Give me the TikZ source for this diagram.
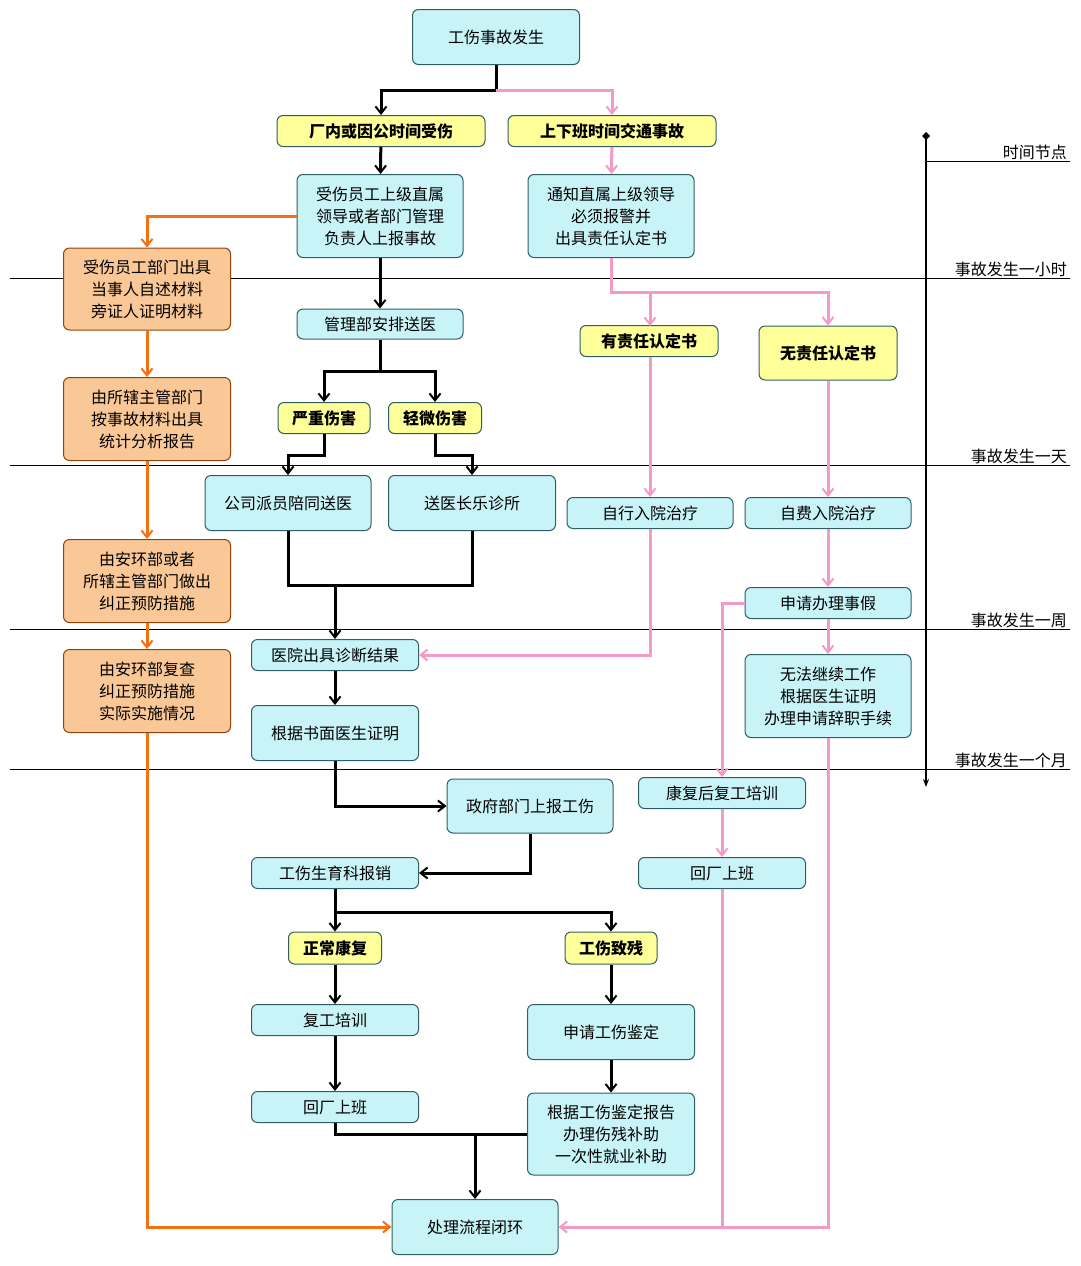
\documentclass[tikz,border=0pt]{standalone}
\usepackage{fontspec}
\newfontfamily\cjk{Noto Sans CJK SC}
\usetikzlibrary{arrows.meta}
\definecolor{cy}{HTML}{C8F4F8}
\definecolor{yl}{HTML}{FFFF99}
\definecolor{orf}{HTML}{FAC896}
\definecolor{orl}{HTML}{F57010}
\definecolor{pk}{HTML}{F49AC8}
\definecolor{bd}{HTML}{2F5F62}
\begin{document}
\begin{tikzpicture}[x=1pt,y=-1pt,
  base/.style={draw=bd,line width=1pt,rounded corners=6pt,align=center,inner sep=0pt,font=\cjk\fontsize{16}{22}\selectfont},
  cb/.style={base,fill=cy},
  yb/.style={base,fill=yl,font=\cjk\bfseries\fontsize{16}{22}\selectfont},
  ob/.style={base,fill=orf,draw=orl!60!black},
  bk/.style={line width=3pt,-{Straight Barb[length=7pt,width=11pt,line width=2pt]}},
  bl/.style={line width=3pt},
  pka/.style={pk,line width=3pt,-{Straight Barb[length=7pt,width=11pt,line width=2pt]}},
  pkl/.style={pk,line width=3pt},
  ora/.style={orl,line width=3pt,-{Straight Barb[length=7pt,width=11pt,line width=2pt]}},
  lbl/.style={anchor=south east,inner sep=1pt,font=\cjk\fontsize{16}{20}\selectfont}]
\useasboundingbox (0,0) rectangle (1080,1266);
\foreach \yy in {278,465,629,769}{\draw[line width=0.8pt] (10,\yy)--(1070,\yy);}
\draw[line width=0.8pt] (926,161)--(1070,161);
\node[lbl] (t0) at (1068,161) {时间节点};
\node[lbl] (t1) at (1068,278) {事故发生一小时};
\node[lbl] (t2) at (1068,465) {事故发生一天};
\node[lbl] (t3) at (1068,629) {事故发生一周};
\node[lbl] (t4) at (1068,769) {事故发生一个月};
\coordinate (ax0) at (926,136); \coordinate (ax1) at (926,787);
\draw[line width=1.2pt,-{Stealth[length=8pt]}] (ax0)--(ax1);
\fill (ax0) +(0,-4) -- +(4,0) -- +(0,4) -- +(-4,0) -- cycle;
\node[cb,minimum width=167,minimum height=55] (a) at (496,37) {工伤事故发生};
\node[yb,minimum width=208,minimum height=31] (y1) at (381,131) {厂内或因公时间受伤};
\node[yb,minimum width=208,minimum height=31] (y2) at (612,131) {上下班时间交通事故};
\node[cb,minimum width=166,minimum height=83] (b1) at (380,216) {受伤员工上级直属\\领导或者部门管理\\负责人上报事故};
\node[cb,minimum width=166,minimum height=83] (b2) at (611,216) {通知直属上级领导\\必须报警并\\出具责任认定书};
\node[ob,minimum width=167,minimum height=82] (o1) at (147,289) {受伤员工部门出具\\当事人自述材料\\旁证人证明材料};
\node[cb,minimum width=166,minimum height=30] (m) at (380,324) {管理部安排送医};
\node[yb,minimum width=138,minimum height=31] (yz) at (649,341) {有责任认定书};
\node[yb,minimum width=138,minimum height=54] (wz) at (828,353) {无责任认定书};
\node[ob,minimum width=167,minimum height=83] (o2) at (147,419) {由所辖主管部门\\按事故材料出具\\统计分析报告};
\node[yb,minimum width=92,minimum height=31] (s1) at (324,418) {严重伤害};
\node[yb,minimum width=93,minimum height=31] (s2) at (435,418) {轻微伤害};
\node[cb,minimum width=166,minimum height=55] (g1) at (288,503) {公司派员陪同送医};
\node[cb,minimum width=167,minimum height=55] (g2) at (472,503) {送医长乐诊所};
\node[cb,minimum width=166,minimum height=31] (z1) at (650,513) {自行入院治疗};
\node[cb,minimum width=166,minimum height=31] (z2) at (828,513) {自费入院治疗};
\node[ob,minimum width=167,minimum height=83] (o3) at (147,581) {由安环部或者\\所辖主管部门做出\\纠正预防措施};
\node[cb,minimum width=166,minimum height=31] (sq) at (828,603) {申请办理事假};
\node[cb,minimum width=167,minimum height=31] (h) at (335,655) {医院出具诊断结果};
\node[ob,minimum width=167,minimum height=83] (o4) at (147,691) {由安环部复查\\纠正预防措施\\实际实施情况};
\node[cb,minimum width=166,minimum height=83] (wf) at (828,696) {无法继续工作\\根据医生证明\\办理申请辞职手续};
\node[cb,minimum width=167,minimum height=55] (sm) at (335,733) {根据书面医生证明};
\node[cb,minimum width=167,minimum height=31] (kf) at (722,793) {康复后复工培训};
\node[cb,minimum width=166,minimum height=54] (zf) at (530,806) {政府部门上报工伤};
\node[cb,minimum width=167,minimum height=31] (gs) at (335,873) {工伤生育科报销};
\node[cb,minimum width=167,minimum height=31] (hr) at (722,873) {回厂上班};
\node[yb,minimum width=93,minimum height=32] (zc) at (335,948) {正常康复};
\node[yb,minimum width=92,minimum height=32] (zd) at (611,948) {工伤致残};
\node[cb,minimum width=167,minimum height=31] (fg) at (335,1020) {复工培训};
\node[cb,minimum width=167,minimum height=55] (jd) at (611,1032) {申请工伤鉴定};
\node[cb,minimum width=167,minimum height=31] (hl) at (335,1107) {回厂上班};
\node[cb,minimum width=167,minimum height=82] (bg) at (611,1134) {根据工伤鉴定报告\\办理伤残补助\\一次性就业补助};
\node[cb,minimum width=166,minimum height=55] (end) at (475,1227) {处理流程闭环};
\draw[bl] (a.south)--(496,90);
\draw[bk] (496,90) -| (y1.north);
\draw[pka] (496,90) -| (y2.north);
\draw[bk] (y1)--(b1);
\draw[pka] (y2)--(b2);
\draw[ora] (b1.west) -| (o1.north);
\draw[bk] (b1)--(m);
\draw[pka] (b2.south) |- (828,292) -- (wz.north);
\draw[pka] (650,292) -- (650,326);
\draw[bk] (m.south) |- (324,371) -- (s1.north);
\draw[bk] (380,371) -| (s2.north);
\draw[bk] (s1.south) |- (288,455) -- (g1.north);
\draw[bk] (s2.south) |- (472,455) -- (g2.north);
\draw[bl] (g1.south) |- (472,585) -- (g2.south);
\draw[bk] (335,585) -- (h.north);
\draw[pka] (650,357) -- (z1.north);
\draw[pka] (wz.south) -- (z2.north);
\draw[pka] (z1.south) |- (h.east);
\draw[pka] (z2)--(sq);
\draw[pka] (sq)--(wf);
\draw[pka] (sq.west) -| (kf.north);
\draw[pka] (kf)--(hr);
\draw[pka] (hr.south) |- (end.east);
\draw[pkl] (wf.south) |- (722,1227);
\draw[ora] (o1)--(o2); \draw[ora] (o2)--(o3); \draw[ora] (o3)--(o4);
\draw[ora] (o4.south) |- (end.west);
\draw[bk] (h)--(sm);
\draw[bk] (sm.south) |- (zf.west);
\draw[bk] (zf.south) |- (gs.east);
\draw[bk] (gs)--(zc);
\draw[bk] (335,912) -| (zd.north);
\draw[bk] (zc)--(fg); \draw[bk] (fg)--(hl);
\draw[bk] (zd)--(jd); \draw[bk] (jd)--(bg);
\draw[bl] (hl.south) |- (bg.west);
\draw[bk] (475,1134) -- (end.north);
\end{tikzpicture}
\end{document}
